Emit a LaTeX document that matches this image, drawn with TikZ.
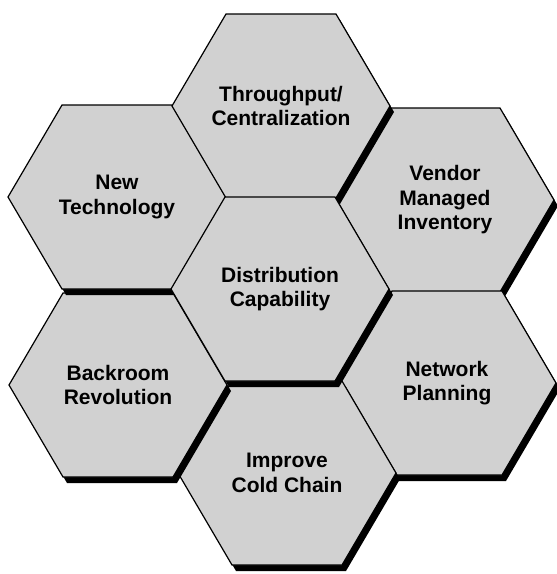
\documentclass[tikz,border=0pt]{standalone}
\usepackage{fontspec}
\setmainfont{Liberation Sans}
\tikzset{
  hexfill/.style={fill=black!18, draw=black, line width=1.2pt, line join=miter},
  hexshadow/.style={fill=black},
  hexlabel/.style={font=\fontsize{21}{24.5}\selectfont\bfseries, align=center, text=black, inner sep=0pt},
}
\newcommand\hexcell[4]{%
  \begin{scope}[shift={(#2,#3)}]
    \fill[hexshadow,shift={(4,6)}] (-109,0) -- (-55,-92) -- (55,-92) -- (109,0) -- (55,92) -- (-55,92) -- cycle;
    \draw[hexfill] (-109,0) -- (-55,-92) -- (55,-92) -- (109,0) -- (55,92) -- (-55,92) -- cycle;
    \node[hexlabel] (#1) at (0,0) {#4};
  \end{scope}}
\begin{document}
\begin{tikzpicture}[x=1pt,y=-1pt]
  \useasboundingbox (0,0) rectangle (557,574);
  \hexcell{vendor}{445}{200}{Vendor\\Managed\\Inventory}
  \hexcell{network}{447}{383}{Network\\Planning}
  \hexcell{improve}{287}{473}{Improve\\Cold Chain}
  \hexcell{backroom}{118}{385}{Backroom\\Revolution}
  \hexcell{newtech}{117}{197}{New\\Technology}
  \hexcell{throughput}{281}{106}{Throughput/\\Centralization}
  \hexcell{distribution}{280}{289}{Distribution\\Capability}
\end{tikzpicture}
\end{document}
